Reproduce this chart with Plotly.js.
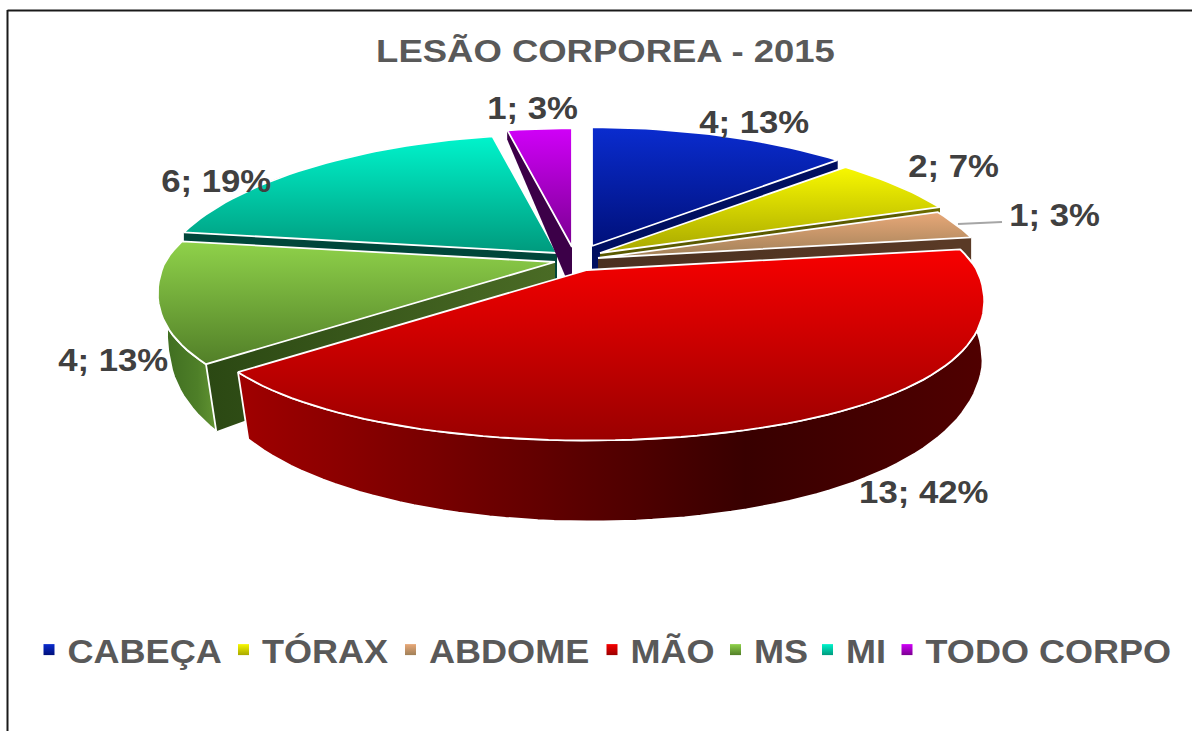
<!DOCTYPE html>
<html>
<head>
<meta charset="utf-8">
<script src="https://cdn.plot.ly/plotly-3.0.1.min.js"></script>
<style>html,body{margin:0;padding:0;background:#fff;overflow:hidden}</style>
</head>
<body>
<div id="chart" style="width:1192px;height:731px"></div>
<script>
// ---- data ----
const categories = ['CABEÇA','TÓRAX','ABDOME','MÃO','MS','MI','TODO CORPO'];
const values     = [4,2,1,13,4,6,1];
const percents   = [13,7,3,42,13,19,3];

// ---- styles ----
const topLight  = ['#0a2ccf','#f8f800','#e8a878','#f80000','#8fd24a','#00f4cc','#d000f8'];
const topDark   = ['#00107a','#a8a800','#a08058','#9a0000','#527f28','#009a7d','#7a0090'];
const cutLeft   = ['#000f60','#5a5a00','#4a3020','#600000','#2b4813','#00463a','#3c0048'];
const cutRight  = ['#000f60','#5a5a00','#5a3a26','#600000','#4a6b25','#00463a','#3c0048'];
const wallLeft  = ['#000f60','#6a6a00','#5a3a26','#a00000','#3c6a1f','#00463a','#3c0048'];
const wallMid   = ['#000f60','#6a6a00','#5a3a26','#380000','#4e7f28','#00463a','#3c0048'];
const wallRight = ['#000f60','#6a6a00','#5a3a26','#500000','#629432','#00463a','#3c0048'];
const wallEdge  = [0,0,0,1.8,1.8,0,0];

// ---- layout of the exploded pie (page-pixel axes) ----
const apexX = [592,600,598,587,555,557,572];
const apexY = [246,253,258,270,262,253,247];
const radius = 390, radiusY = 140, persp = 0.179, perspBackX = 0.22, perspFrontX = 0.19;
const bottomShrink = 0.985, bottomShift = 5, frontBulge = 25;
const depthMid = 45, depthTilt = 36;
const drawOrder = [5,6,0,1,2,4,3];
const labelX = [754,953,1054,923,113,216,532];
const labelY = [122,166,215,492,360,181,108];
const legendCenters = [49,243.5,410.5,612,735.5,827.5,907];
const labelStretch = 1.12, titleStretch = 1.14, legendStretch = 1.06;
const font = 'Liberation Sans, Arial, sans-serif';

// project an angle (clockwise from 12 o'clock) on the tilted disc
function rim(i, deg, bottom) {
  const t = deg*Math.PI/180, u = Math.sin(t), w = Math.cos(t), s = 1 + persp*w;
  const sx = 1 + (w>0 ? perspBackX : perspFrontX)*w;
  const x = radius*u/sx;
  const y = -radiusY*w/s + (w<0 ? frontBulge*(-w)*(1+w) : 0);
  if (bottom) {
    const shift = w<0 ? bottomShift*Math.min(1, -w*4) : 0;
    return [apexX[i] + (w<0 ? x*bottomShrink : x) + shift, apexY[i] + y + depthMid - depthTilt*w];
  }
  return [apexX[i] + x, apexY[i] + y];
}
function arc(i, a0, a1, bottom) {
  const n = Math.max(2, Math.ceil(Math.abs(a1-a0)/2)), pts = [];
  for (let k=0;k<=n;k++) pts.push(rim(i, a0+(a1-a0)*k/n, bottom));
  return pts;
}
function poly(pts, scale, type, edge, name) {
  const xs = pts.map(p=>p[0]).concat(pts[0][0]);
  const ys = pts.map(p=>p[1]).concat(pts[0][1]);
  const lo = type==='vertical' ? Math.min(...ys) : Math.min(...xs);
  const hi = type==='vertical' ? Math.max(...ys) : Math.max(...xs);
  return {type:'scatter', mode:'lines', x:xs, y:ys, fill:'toself',
    fillgradient:{type, colorscale:scale, start:lo, stop:hi},
    line:{color:'#ffffff', width:edge}, showlegend:false, hoverinfo:'skip', name};
}

const total = values.reduce((a,b)=>a+b,0);
const starts = []; let acc = 0;
values.forEach(v=>{starts.push(acc); acc += v/total*360;});

const traces = [];
drawOrder.forEach(i=>{
  const a0 = starts[i], a1 = a0 + values[i]/total*360;
  const apexT = [apexX[i], apexY[i]], apexB = [apexX[i], apexY[i]+depthMid];
  const cut = [[0,cutLeft[i]],[1,cutRight[i]]];
  // cut faces
  traces.push(poly([apexT, rim(i,a0), rim(i,a0,true), apexB], cut, 'horizontal', 0, categories[i]));
  traces.push(poly([apexT, rim(i,a1), rim(i,a1,true), apexB], cut, 'horizontal', 0, categories[i]));
  // outer wall
  traces.push(poly(arc(i,a0,a1).concat(arc(i,a1,a0,true)),
    [[0,wallLeft[i]],[0.68,wallMid[i]],[1,wallRight[i]]], 'horizontal', wallEdge[i], categories[i]));
  // top face
  traces.push(poly([apexT].concat(arc(i,a0,a1)), [[0,topLight[i]],[1,topDark[i]]], 'vertical', 1.8, categories[i]));
});

// legend entries
categories.forEach((c,i)=>traces.push({
  type:'scatter', mode:'markers', x:[null], y:[null], name:c,
  marker:{symbol:'square', size:11, color:topLight[i], gradient:{type:'vertical', color:topDark[i]}},
  hoverinfo:'skip'
}));

const annotations = categories.map((c,i)=>({
  x:labelX[i], y:labelY[i], xref:'x', yref:'y', showarrow:false,
  text: values[i]+'; '+percents[i]+'%',
  font:{family:font, size:31, color:'#404040', weight:'bold'}
}));

const layout = {
  width:1192, height:731, margin:{l:0,r:0,t:0,b:0},
  paper_bgcolor:'#ffffff', plot_bgcolor:'#ffffff',
  xaxis:{range:[0,1192], visible:false, fixedrange:true},
  yaxis:{range:[731,0], visible:false, fixedrange:true},
  title:{text:'LESÃO CORPOREA - 2015', x:605.5/1192, xanchor:'center', y:1-51/731, yanchor:'middle',
    font:{family:font, size:32, color:'#595959', weight:'bold'}},
  legend:{orientation:'h', x:0.5, xanchor:'center', y:1-650/731, yanchor:'middle',
    font:{family:font, size:34, color:'#595959', weight:'bold'}, bgcolor:'rgba(0,0,0,0)', traceorder:'normal'},
  annotations,
  shapes:[
    {type:'line', xref:'x', yref:'y', x0:7.5, x1:7.5, y0:10, y1:731, line:{color:'#1a1a1a', width:2}},
    {type:'line', xref:'x', yref:'y', x0:7.5, x1:1192, y0:10.5, y1:10.5, line:{color:'#1a1a1a', width:2}},
    {type:'line', xref:'x', yref:'y', x0:958, x1:1002, y0:224, y1:222, line:{color:'#a6a6a6', width:2}, layer:'above'}
  ]
};

function widen(el, factor) {
  el.setAttribute('textLength', (el.getComputedTextLength()*factor).toFixed(1));
  el.setAttribute('lengthAdjust', 'spacingAndGlyphs');
}

Plotly.newPlot('chart', traces, layout, {displayModeBar:false, staticPlot:true}).then(()=>{
  document.querySelectorAll('#chart .annotation-text').forEach(el=>widen(el, labelStretch));
  document.querySelectorAll('#chart .gtitle').forEach(el=>widen(el, titleStretch));
  // place the legend entries at the reference's spacing
  const legend = document.querySelector('#chart .legend');
  const box = legend.querySelector('.scrollbox');
  box.removeAttribute('clip-path');
  const lx = parseFloat(/translate\(\s*([-\d.]+)/.exec(legend.getAttribute('transform'))[1]);
  legend.querySelectorAll('.traces').forEach((g,i)=>{
    const ly = /translate\(\s*[-\d.]+[ ,]+([-\d.]+)/.exec(g.getAttribute('transform'));
    g.setAttribute('transform', 'translate('+(legendCenters[i]-lx-20)+','+(ly?ly[1]:0)+')');
    const txt = g.querySelector('.legendtext');
    txt.setAttribute('x', parseFloat(txt.getAttribute('x'))-1.5);
    widen(txt, legendStretch);
  });
});
</script>
</body>
</html>
